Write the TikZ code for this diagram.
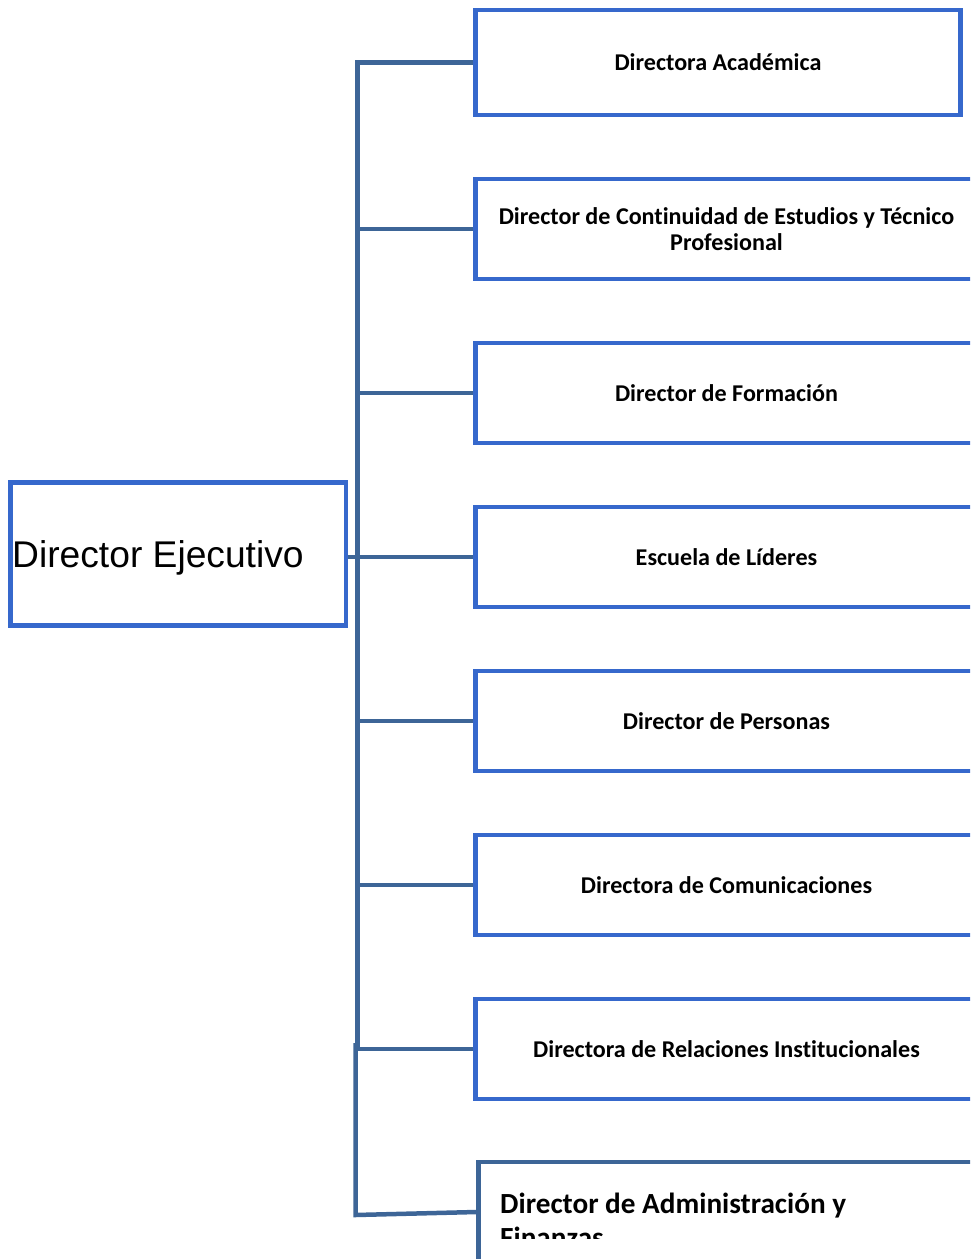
\documentclass[tikz,border=0pt]{standalone}
\usepackage{fontspec}
\newfontfamily\calibrifont[Ligatures=NoCommon]{Carlito}
\newfontfamily\arialfont{Liberation Sans}
\definecolor{boxblue}{RGB}{54,104,204}
\definecolor{linkblue}{RGB}{61,101,151}
\pgfdeclarelayer{background}
\pgfsetlayers{background,main}
\begin{document}
\begin{tikzpicture}[x=1pt,y=-1pt,
  orgbox/.style={draw=boxblue, line width=4.5pt, fill=white, rectangle, inner sep=0pt,
    minimum height=100pt, minimum width=502pt, align=center,
    font=\calibrifont\bfseries\fontsize{24.1}{26.5}\selectfont},
  bigtext/.style={anchor=base west, inner sep=0pt, font=\calibrifont\bfseries\fontsize{29.2}{32}\selectfont},
  ceotext/.style={anchor=base west, inner sep=0pt, font=\arialfont\fontsize{37.2}{40}\selectfont},
  link/.style={draw=linkblue, line width=4.5pt}]
\useasboundingbox (0,0) rectangle (970,1259);
\begin{scope}
\clip (0,0) rectangle (970,1259);
% boxes
\node[orgbox, minimum width=485pt, minimum height=105pt] (b1) at (718,62.5) {Directora Académica};
\node[orgbox] (b2) at (726.5,229) {Director de Continuidad de Estudios y Técnico\\Profesional};
\node[orgbox] (b3) at (726.5,393) {Director de Formación};
\node[orgbox] (b4) at (726.5,557) {Escuela de Líderes};
\node[orgbox] (b5) at (726.5,721) {Director de Personas};
\node[orgbox] (b6) at (726.5,885) {Directora de Comunicaciones};
\node[orgbox] (b7) at (726.5,1049) {Directora de Relaciones Institucionales};
\node[orgbox, draw=linkblue] (b8) at (729.5,1212) {};
\begin{scope}
\clip (482,1166) rectangle (970,1238);
\node[bigtext] (b8a) at (500,1213) {Director de Administración y};
\node[bigtext] (b8b) at (500,1247) {Finanzas};
\end{scope}
% CEO
\node[draw=boxblue, line width=4.5pt, fill=white, inner sep=0pt,
  minimum width=335.5pt, minimum height=143pt] (ceo) at (178.25,554) {};
\node[ceotext] (ceot) at (12,567.3) {Director Ejecutivo};
% connectors
\coordinate (jtop) at (357.5,63);
\coordinate (jmid) at (357.5,1050);
\coordinate (jlowa) at (355.5,1043);
\coordinate (jlowb) at (355.5,1215);
\begin{pgfonlayer}{background}
\draw[link] (b1.west) -| (jmid);
\foreach \i in {2,...,7} {\draw[link] (b\i.west) -- (b\i.west -| jtop);}
\draw[link] (ceo.east |- b4.west) -- (b4.west);
\draw[link] (jlowa) -- (jlowb) -- (b8.west);
\end{pgfonlayer}
\end{scope}
\end{tikzpicture}
\end{document}
